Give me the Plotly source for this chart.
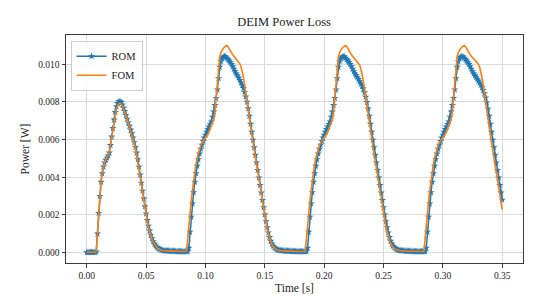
import numpy as np
import plotly.graph_objects as go

# time grid: 0 .. 0.35 s, 1 ms step
time_s = np.round(np.arange(0, 351) * 0.001, 3)

# ---------------- ROM (reduced order model) ----------------
rom_c1 = [
    0.00002, 0.00002, 0.00002, 0.00002, 0.00002, 0.00002, 0.00002, 0.00002,
    0.00005, 0.00100, 0.00210, 0.00300, 0.00375, 0.00420, 0.00455, 0.00478, 0.00492, 0.00503,
    0.00515, 0.00530, 0.00570, 0.00615, 0.00660, 0.00705, 0.00745, 0.00775, 0.00793, 0.00802,
    0.00803, 0.00798, 0.00785, 0.00768, 0.00750, 0.00730, 0.00710, 0.00690, 0.00672, 0.00652,
    0.00632, 0.00610, 0.00585, 0.00560, 0.00530, 0.00495, 0.00455, 0.00413, 0.00370, 0.00328,
    0.00286, 0.00245, 0.00207, 0.00172, 0.00142, 0.00116, 0.00094, 0.00076, 0.00060, 0.00047,
    0.00037, 0.00029, 0.00024, 0.00020, 0.00017, 0.00014, 0.00012, 0.00011, 0.00010, 0.00010,
    0.00009, 0.00009, 0.00009, 0.00008, 0.00008, 0.00008, 0.00008, 0.00007, 0.00007, 0.00007,
    0.00007, 0.00007, 0.00006, 0.00006, 0.00006, 0.00006, 0.00006, 0.00006,
]
rom_c2 = [
    0.00025, 0.00110, 0.00190, 0.00260, 0.00320, 0.00375, 0.00420, 0.00460, 0.00495, 0.00525,
    0.00550, 0.00572, 0.00592, 0.00610, 0.00625, 0.00640, 0.00655, 0.00668, 0.00682, 0.00695,
    0.00720, 0.00748, 0.00782, 0.00820, 0.00865, 0.00925, 0.00985, 0.01015, 0.01030, 0.01038,
    0.01042, 0.01040, 0.01033, 0.01025, 0.01018, 0.01010, 0.01000, 0.00988, 0.00975, 0.00962,
    0.00950, 0.00940, 0.00928, 0.00915, 0.00902, 0.00888, 0.00873, 0.00852, 0.00828, 0.00800,
    0.00765, 0.00725, 0.00683, 0.00640, 0.00598, 0.00558, 0.00518, 0.00478, 0.00438, 0.00398,
    0.00358, 0.00318, 0.00278, 0.00240, 0.00202, 0.00166, 0.00134, 0.00106, 0.00082, 0.00062,
    0.00047, 0.00036, 0.00028, 0.00022, 0.00018, 0.00015, 0.00013, 0.00012, 0.00011, 0.00010,
    0.00010, 0.00009, 0.00009, 0.00009, 0.00008, 0.00008, 0.00008, 0.00008, 0.00007, 0.00007,
    0.00007, 0.00007, 0.00007, 0.00006, 0.00006, 0.00006, 0.00006, 0.00006, 0.00006, 0.00006,
]
rom_c3 = [
    0.00025, 0.00110, 0.00190, 0.00260, 0.00320, 0.00375, 0.00420, 0.00460, 0.00495, 0.00525,
    0.00550, 0.00572, 0.00592, 0.00610, 0.00625, 0.00640, 0.00655, 0.00668, 0.00682, 0.00695,
    0.00720, 0.00748, 0.00782, 0.00820, 0.00865, 0.00925, 0.00985, 0.01015, 0.01030, 0.01038,
    0.01042, 0.01040, 0.01033, 0.01025, 0.01018, 0.01010, 0.01000, 0.00988, 0.00975, 0.00962,
    0.00950, 0.00940, 0.00930, 0.00920, 0.00908, 0.00896, 0.00884, 0.00870, 0.00850, 0.00826,
    0.00798, 0.00764, 0.00725, 0.00683, 0.00640, 0.00598, 0.00558, 0.00518, 0.00478, 0.00438,
    0.00398, 0.00358, 0.00318, 0.00278, 0.00240, 0.00202, 0.00166, 0.00134, 0.00106, 0.00082,
    0.00062, 0.00047, 0.00036, 0.00028, 0.00022, 0.00018, 0.00015, 0.00013, 0.00012, 0.00011,
    0.00010, 0.00010, 0.00009, 0.00009, 0.00008, 0.00008, 0.00008, 0.00008, 0.00007, 0.00007,
    0.00007, 0.00007, 0.00007, 0.00006, 0.00006, 0.00006, 0.00006, 0.00006, 0.00006, 0.00006,
]
rom_c4 = [
    0.00025, 0.00110, 0.00190, 0.00260, 0.00320, 0.00375, 0.00420, 0.00460, 0.00495, 0.00525,
    0.00550, 0.00572, 0.00592, 0.00610, 0.00625, 0.00640, 0.00655, 0.00668, 0.00682, 0.00695,
    0.00720, 0.00748, 0.00782, 0.00820, 0.00865, 0.00925, 0.00985, 0.01015, 0.01030, 0.01038,
    0.01042, 0.01040, 0.01033, 0.01025, 0.01018, 0.01010, 0.01000, 0.00988, 0.00975, 0.00962,
    0.00950, 0.00940, 0.00932, 0.00922, 0.00912, 0.00902, 0.00890, 0.00877, 0.00862, 0.00845,
    0.00822, 0.00796, 0.00763, 0.00725, 0.00683, 0.00640, 0.00598, 0.00558, 0.00518, 0.00478,
    0.00438, 0.00398, 0.00358, 0.00318, 0.00280,
]

# ---------------- FOM (full order model) ----------------
fom_c1 = [
    0.00002, 0.00002, 0.00002, 0.00002, 0.00002, 0.00002, 0.00002, 0.00002,
    0.00010, 0.00115, 0.00225, 0.00310, 0.00380, 0.00425, 0.00458, 0.00480, 0.00494, 0.00505,
    0.00517, 0.00535, 0.00572, 0.00612, 0.00652, 0.00693, 0.00730, 0.00760, 0.00780, 0.00790,
    0.00792, 0.00788, 0.00778, 0.00763, 0.00746, 0.00727, 0.00708, 0.00688, 0.00668, 0.00648,
    0.00627, 0.00604, 0.00578, 0.00550, 0.00518, 0.00482, 0.00442, 0.00400, 0.00358, 0.00316,
    0.00275, 0.00235, 0.00198, 0.00164, 0.00134, 0.00109, 0.00088, 0.00070, 0.00055, 0.00043,
    0.00034, 0.00027, 0.00022, 0.00018, 0.00015, 0.00013, 0.00011, 0.00010, 0.00010, 0.00009,
    0.00009, 0.00009, 0.00008, 0.00008, 0.00008, 0.00008, 0.00007, 0.00007, 0.00007, 0.00007,
    0.00007, 0.00006, 0.00006, 0.00006, 0.00006, 0.00006, 0.00006, 0.00070,
]
fom_c2 = [
    0.00150, 0.00215, 0.00275, 0.00330, 0.00385, 0.00430, 0.00470, 0.00502, 0.00530, 0.00552,
    0.00570, 0.00584, 0.00593, 0.00598, 0.00605, 0.00615, 0.00628, 0.00642, 0.00658, 0.00674,
    0.00690, 0.00710, 0.00750, 0.00820, 0.00920, 0.01000, 0.01040, 0.01062, 0.01075, 0.01084,
    0.01091, 0.01097, 0.01099, 0.01094, 0.01082, 0.01068, 0.01058, 0.01050, 0.01042, 0.01035,
    0.01028, 0.01020, 0.01012, 0.01002, 0.00985, 0.00962, 0.00930, 0.00888, 0.00840, 0.00790,
    0.00752, 0.00712, 0.00670, 0.00627, 0.00585, 0.00545, 0.00505, 0.00465, 0.00425, 0.00385,
    0.00345, 0.00305, 0.00266, 0.00228, 0.00190, 0.00155, 0.00124, 0.00097, 0.00075, 0.00057,
    0.00043, 0.00033, 0.00025, 0.00020, 0.00016, 0.00013, 0.00011, 0.00010, 0.00010, 0.00009,
    0.00009, 0.00009, 0.00008, 0.00008, 0.00008, 0.00008, 0.00007, 0.00007, 0.00007, 0.00007,
    0.00007, 0.00006, 0.00006, 0.00006, 0.00006, 0.00006, 0.00006, 0.00006, 0.00006, 0.00070,
]
fom_c3 = [
    0.00150, 0.00215, 0.00275, 0.00330, 0.00385, 0.00430, 0.00470, 0.00502, 0.00530, 0.00552,
    0.00570, 0.00584, 0.00593, 0.00598, 0.00605, 0.00615, 0.00628, 0.00642, 0.00658, 0.00674,
    0.00690, 0.00710, 0.00750, 0.00820, 0.00920, 0.01000, 0.01040, 0.01062, 0.01075, 0.01084,
    0.01091, 0.01097, 0.01099, 0.01094, 0.01082, 0.01068, 0.01058, 0.01050, 0.01042, 0.01035,
    0.01028, 0.01020, 0.01012, 0.01002, 0.00994, 0.00974, 0.00946, 0.00909, 0.00864, 0.00815,
    0.00771, 0.00732, 0.00691, 0.00649, 0.00606, 0.00565, 0.00525, 0.00485, 0.00445, 0.00405,
    0.00365, 0.00325, 0.00286, 0.00247, 0.00209, 0.00173, 0.00140, 0.00111, 0.00086, 0.00066,
    0.00050, 0.00038, 0.00029, 0.00023, 0.00018, 0.00015, 0.00012, 0.00011, 0.00010, 0.00010,
    0.00009, 0.00009, 0.00008, 0.00008, 0.00008, 0.00008, 0.00007, 0.00007, 0.00007, 0.00007,
    0.00007, 0.00006, 0.00006, 0.00006, 0.00006, 0.00006, 0.00006, 0.00006, 0.00006, 0.00070,
]
fom_c4 = [
    0.00150, 0.00215, 0.00275, 0.00330, 0.00385, 0.00430, 0.00470, 0.00502, 0.00530, 0.00552,
    0.00570, 0.00584, 0.00593, 0.00598, 0.00605, 0.00615, 0.00628, 0.00642, 0.00658, 0.00674,
    0.00690, 0.00710, 0.00750, 0.00820, 0.00920, 0.01000, 0.01040, 0.01062, 0.01075, 0.01084,
    0.01091, 0.01097, 0.01099, 0.01094, 0.01082, 0.01068, 0.01058, 0.01050, 0.01042, 0.01035,
    0.01028, 0.01020, 0.01012, 0.01002, 0.01000, 0.00985, 0.00960, 0.00928, 0.00888, 0.00840,
    0.00790, 0.00752, 0.00712, 0.00670, 0.00627, 0.00585, 0.00545, 0.00505, 0.00465, 0.00425,
    0.00385, 0.00345, 0.00305, 0.00266, 0.00228,
]

rom = rom_c1 + rom_c2 + rom_c3 + rom_c4
fom = fom_c1 + fom_c2 + fom_c3 + fom_c4

x_ticks = [0.00, 0.05, 0.10, 0.15, 0.20, 0.25, 0.30, 0.35]
x_tick_labels = ["0.00", "0.05", "0.10", "0.15", "0.20", "0.25", "0.30", "0.35"]
y_ticks = [0.000, 0.002, 0.004, 0.006, 0.008, 0.010]
y_tick_labels = ["0.000", "0.002", "0.004", "0.006", "0.008", "0.010"]

FONT = "Liberation Serif, DejaVu Serif, serif"

fig = go.Figure()
fig.add_trace(go.Scatter(
    x=time_s, y=rom, name="ROM", mode="lines+markers",
    line=dict(color="#1f77b4", width=1.5),
    marker=dict(symbol="star", size=5.5, color="#1f77b4", line=dict(width=0)),
))
fig.add_trace(go.Scatter(
    x=time_s, y=fom, name="FOM", mode="lines",
    line=dict(color="#ff7f0e", width=1.6),
))

axis_common = dict(
    showline=True, linecolor="#3a3a3a", linewidth=1, mirror=True,
    ticks="outside", ticklen=3.5, tickwidth=0.8, tickcolor="#3a3a3a",
    showgrid=True, gridcolor="#dadada", gridwidth=0.8, automargin=False,
    zeroline=False, tickfont=dict(family=FONT, size=9.5, color="#222"),
)

# the page body adds an 8 px offset; the figure is sized so the plot area
# lands where the reference puts it in the 560x296 window
fig.update_layout(
    width=552, height=288,
    margin=dict(l=58, r=37, t=27, b=33, autoexpand=False),
    paper_bgcolor="white", plot_bgcolor="white",
    title=dict(text="DEIM Power Loss", x=0.5, xanchor="center", y=0.952, yanchor="middle",
               automargin=False,
               font=dict(family=FONT, size=12.5, color="#222")),
    xaxis=dict(range=[-0.0175, 0.3675], tickvals=x_ticks, ticktext=x_tick_labels,
               title=dict(text="Time [s]", font=dict(family=FONT, size=11.5, color="#222"), standoff=4),
               **axis_common),
    yaxis=dict(range=[-0.00055, 0.01155], tickvals=y_ticks, ticktext=y_tick_labels,
               title=dict(text="Power [W]", font=dict(family=FONT, size=11.5, color="#222"), standoff=6),
               **axis_common),
    legend=dict(x=0.01, y=0.975, xanchor="left", yanchor="top",
                bgcolor="rgba(255,255,255,0.85)", bordercolor="#cccccc", borderwidth=1,
                font=dict(family=FONT, size=10.5, color="#222"),
                itemwidth=30, tracegroupgap=0),
    showlegend=True,
)

fig.write_html("out.html")
